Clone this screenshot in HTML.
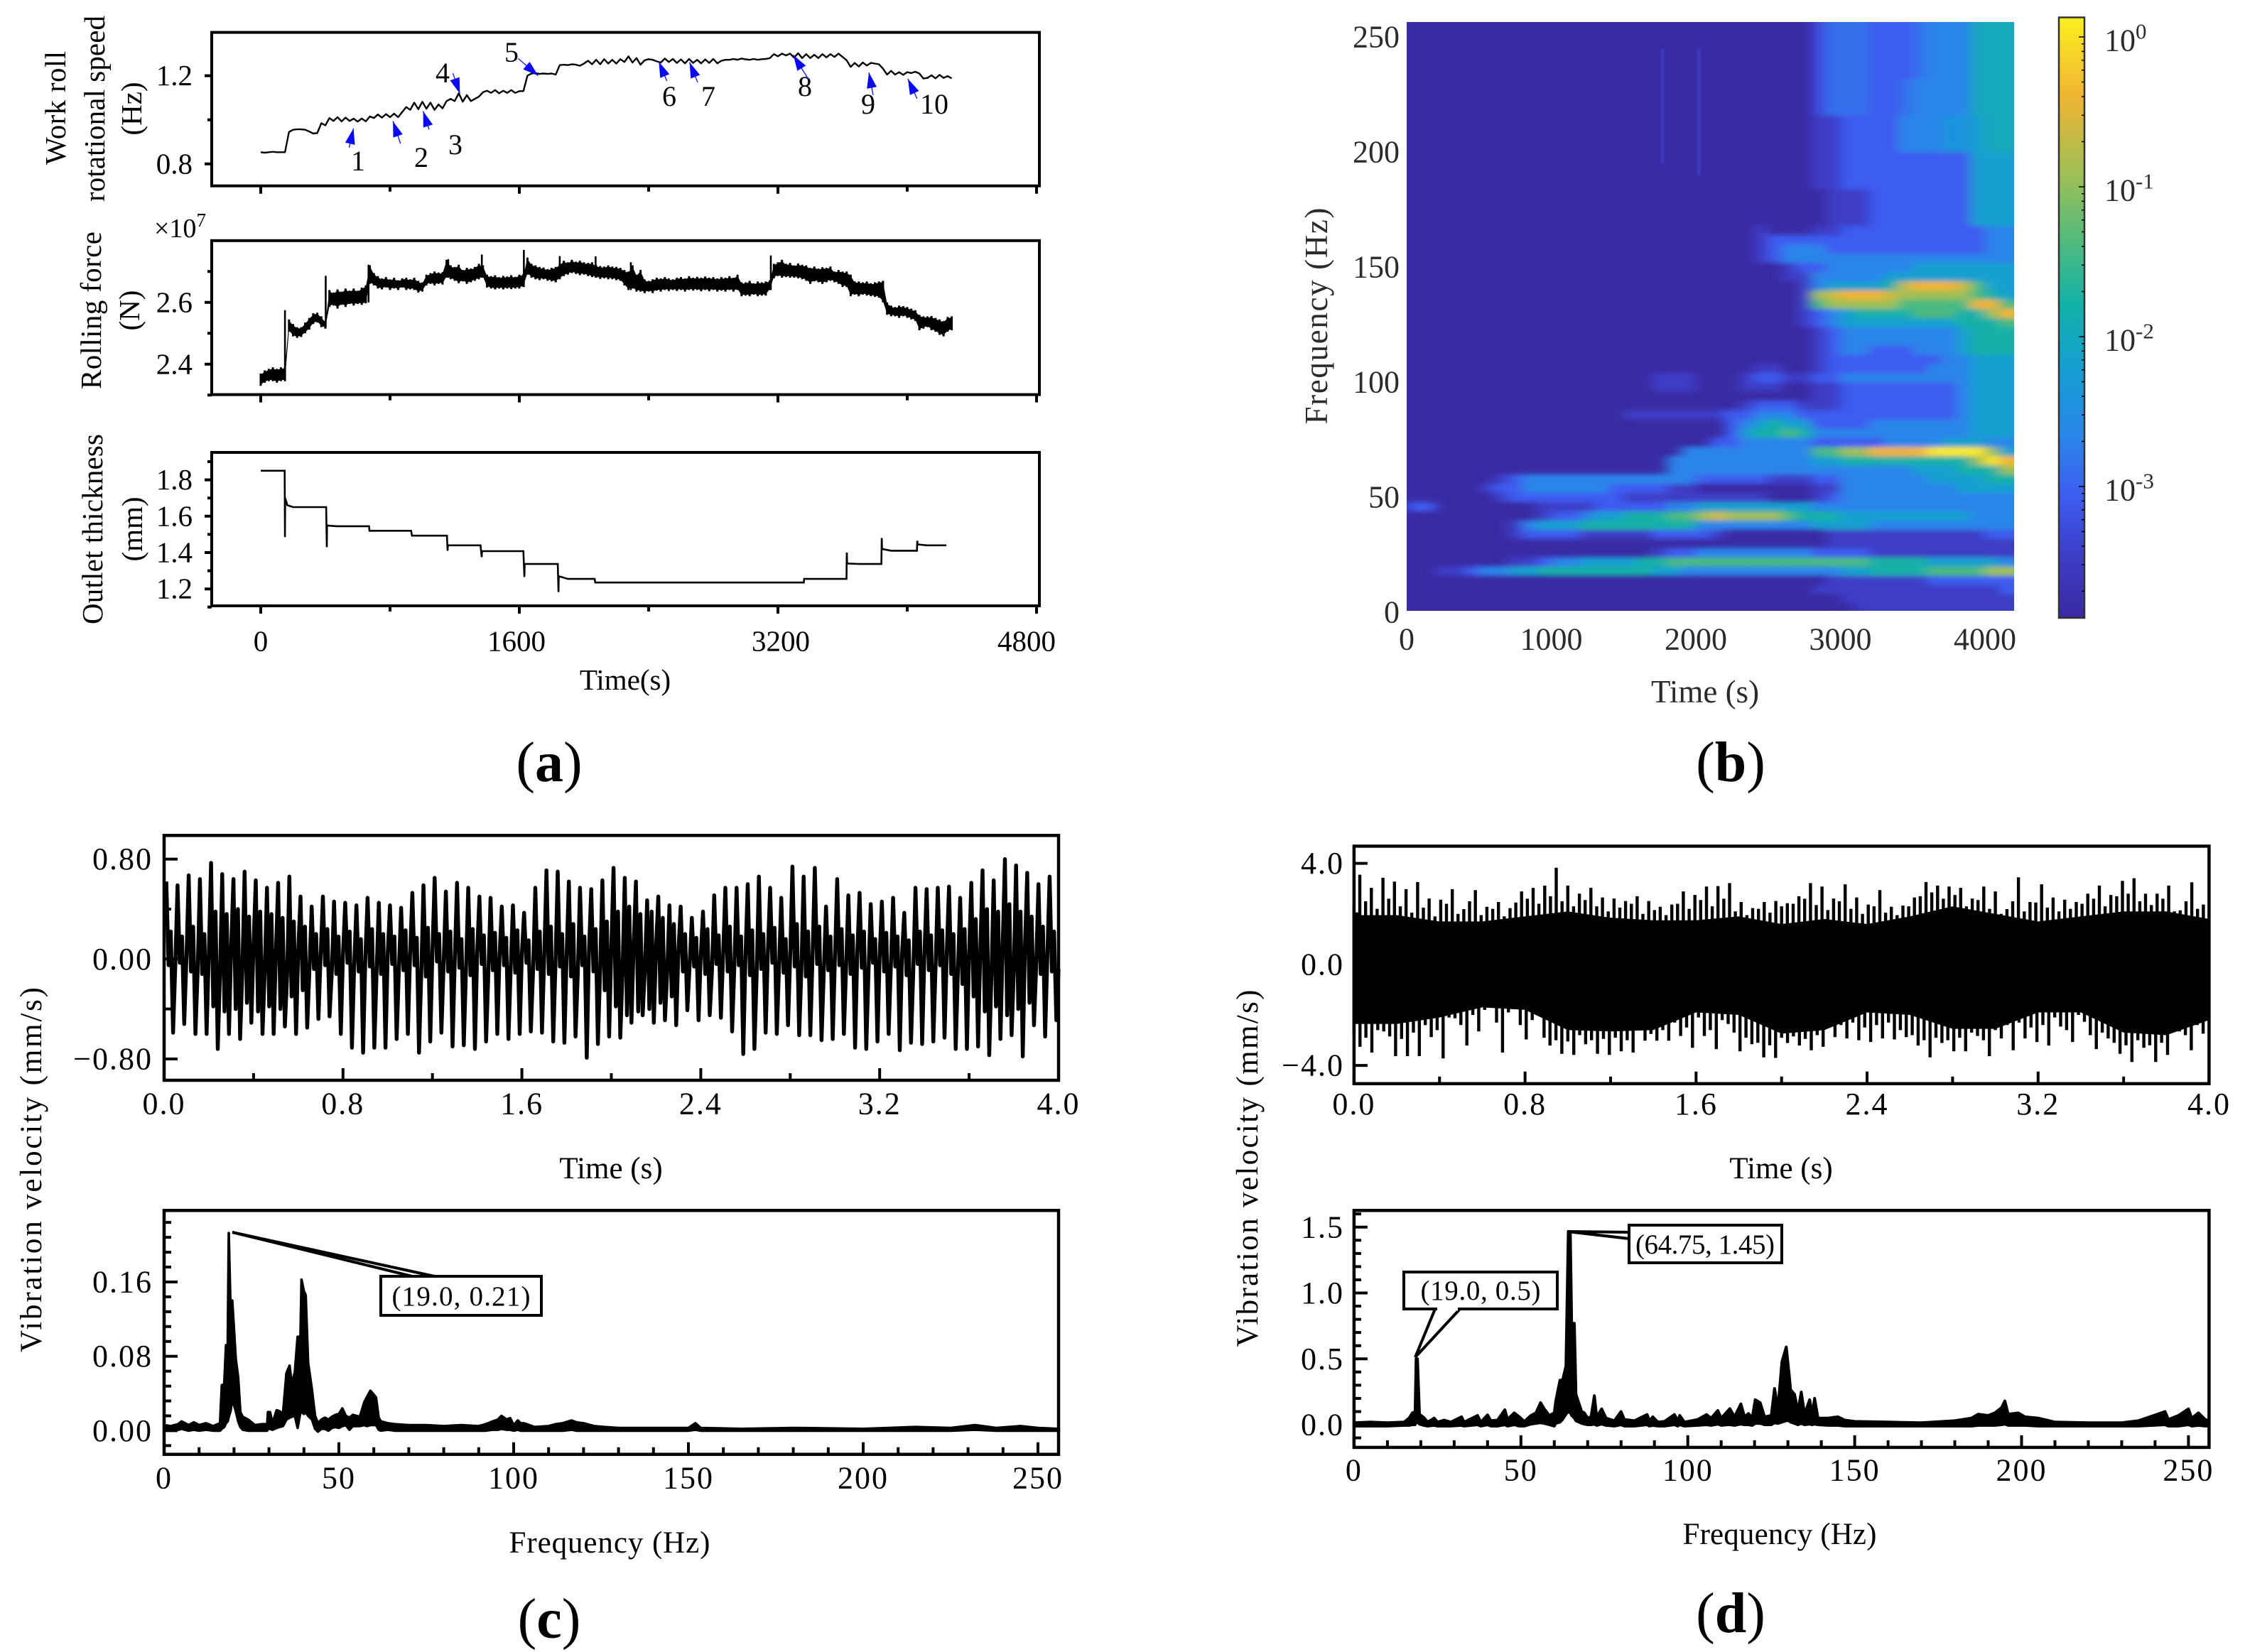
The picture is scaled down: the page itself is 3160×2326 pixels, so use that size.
<!DOCTYPE html>
<html lang="en">
<head>
<meta charset="utf-8">
<title>Rolling mill vibration figure</title>
<style>
html,body{margin:0;padding:0;background:#fff;}
svg{display:block;font-family:"Liberation Serif",serif;fill:#000;}
</style>
</head>
<body>
<svg id="chart" xmlns="http://www.w3.org/2000/svg" width="3160" height="2326" viewBox="0 0 3160 2326">
  <rect x="0" y="0" width="3160" height="2326" fill="#fff"/>
  <defs>
    <filter id="heatBlur" filterUnits="userSpaceOnUse" x="1900" y="0" width="1000" height="920"><feGaussianBlur stdDeviation="9 3.5"/></filter>
    <filter id="softBlur" filterUnits="userSpaceOnUse" x="1900" y="0" width="1000" height="920"><feGaussianBlur stdDeviation="1.2"/></filter>
    <clipPath id="heatClip"><rect x="1980" y="31" width="855" height="829"/></clipPath>
    <linearGradient id="parula" x1="0" y1="1" x2="0" y2="0">
      <stop offset="0" stop-color="#3a2aa3"/><stop offset="0.1" stop-color="#3c3cc6"/><stop offset="0.2" stop-color="#3d5cf0"/>
      <stop offset="0.3" stop-color="#2a85ea"/><stop offset="0.42" stop-color="#14a0d0"/><stop offset="0.52" stop-color="#12b0a8"/>
      <stop offset="0.62" stop-color="#4cba80"/><stop offset="0.74" stop-color="#9fbf55"/><stop offset="0.87" stop-color="#f0b432"/>
      <stop offset="1" stop-color="#fbf01e"/>
    </linearGradient>
  </defs>

  <!-- panel a text -->
  <g font-size="41">
    <text transform="translate(92,152) rotate(-90)" text-anchor="middle" textLength="160">Work roll</text>
    <text transform="translate(147,153) rotate(-90)" text-anchor="middle" textLength="262">rotational speed</text>
    <text transform="translate(199,153) rotate(-90)" text-anchor="middle">(Hz)</text>
    <text transform="translate(142,437) rotate(-90)" text-anchor="middle" textLength="222">Rolling force</text>
    <text transform="translate(196,437) rotate(-90)" text-anchor="middle">(N)</text>
    <text transform="translate(144,745) rotate(-90)" text-anchor="middle" textLength="268">Outlet thickness</text>
    <text transform="translate(200,745) rotate(-90)" text-anchor="middle">(mm)</text>
    <text x="880" y="971" text-anchor="middle">Time(s)</text>
    <text x="217" y="334" font-size="38">×10<tspan dy="-15" font-size="27">7</tspan></text>
  </g>
  <g font-size="40" text-anchor="middle">
    <text x="504" y="240">1</text>
    <text x="593" y="235">2</text>
    <text x="641" y="217">3</text>
    <text x="623" y="116">4</text>
    <text x="720" y="87">5</text>
    <text x="942" y="149">6</text>
    <text x="997" y="149">7</text>
    <text x="1133" y="135">8</text>
    <text x="1222" y="160">9</text>
    <text x="1315" y="160">10</text>
  </g>

  <!-- panel b text -->
  <g font-size="45" fill="#2b2b2b">
    <text transform="translate(1868,445) rotate(-90)" text-anchor="middle" textLength="305">Frequency (Hz)</text>
    <text x="2400" y="989" text-anchor="middle">Time (s)</text>
  </g>

  <!-- panel c/d text -->
  <g font-size="43">
    <text transform="translate(58,1647) rotate(-90)" text-anchor="middle" textLength="514">Vibration velocity (mm/s)</text>
    <text x="860" y="1659" text-anchor="middle">Time (s)</text>
    <text x="858" y="2186" text-anchor="middle" textLength="283">Frequency (Hz)</text>
  </g>
  <g font-size="43">
    <text transform="translate(1770,1645) rotate(-90)" text-anchor="middle" textLength="503">Vibration velocity (mm/s)</text>
    <text x="2507" y="1659" text-anchor="middle">Time (s)</text>
    <text x="2505" y="2174" text-anchor="middle" textLength="273">Frequency (Hz)</text>
  </g>

  <!-- panel letters -->
  <text x="773" y="1100" font-size="80" text-anchor="middle">(<tspan font-weight="bold">a</tspan>)</text>
  <text x="2436" y="1100" font-size="80" text-anchor="middle">(<tspan font-weight="bold">b</tspan>)</text>
  <text x="773" y="2306" font-size="80" text-anchor="middle">(<tspan font-weight="bold">c</tspan>)</text>
  <text x="2436" y="2298" font-size="80" text-anchor="middle">(<tspan font-weight="bold">d</tspan>)</text>

  <g id="plots"></g>

  <!-- callouts -->
  <g>
    <path d="M327,1735 L584,1798 L616,1798 Z" fill="#fff" stroke="#000" stroke-width="4"/>
    <rect x="536" y="1797" width="226" height="55" fill="#fff" stroke="#000" stroke-width="4"/>
    <text x="649" y="1838" font-size="39" text-anchor="middle" textLength="195">(19.0, 0.21)</text>
  </g>
  <g>
    <path d="M1992,1911 L2020,1843 L2055,1843 Z" fill="#fff" stroke="#000" stroke-width="4"/>
    <rect x="1976" y="1791" width="216" height="52" fill="#fff" stroke="#000" stroke-width="4"/>
    <path d="M2023,1843 H2052" stroke="#fff" stroke-width="5"/>
    <text x="2084" y="1830" font-size="39" text-anchor="middle" textLength="169">(19.0, 0.5)</text>
  </g>
  <g>
    <path d="M2206,1734 L2293,1735 L2293,1744 Z" fill="#fff" stroke="#000" stroke-width="4"/>
    <rect x="2293" y="1725" width="215" height="53" fill="#fff" stroke="#000" stroke-width="4"/>
    <text x="2400" y="1765" font-size="39" text-anchor="middle" textLength="196">(64.75, 1.45)</text>
  </g>
</svg>

<script>
/* ---------- panel (a) data ---------- */
const speedStep = 25;
const speedValues = [.853,.851,.853,.855,.853,.853,.853,.945,.955,.957,.957,.955,.947,.938,.94,.985,.975,1.008,.995,1.012,.993,1.01,.995,1.005,.992,1.006,.993,1.015,1.008,1.024,1.01,1.026,1.012,1.028,1.012,1.035,1.058,1.045,1.078,1.048,1.082,1.05,1.078,1.045,1.07,1.052,1.085,1.095,1.085,1.12,1.082,1.112,1.085,1.095,1.105,1.125,1.132,1.122,1.135,1.12,1.132,1.122,1.135,1.122,1.13,1.13,1.2,1.21,1.212,1.208,1.21,1.208,1.21,1.205,1.248,1.25,1.248,1.252,1.25,1.245,1.255,1.268,1.252,1.272,1.252,1.275,1.255,1.272,1.255,1.275,1.262,1.288,1.26,1.28,1.25,1.27,1.275,1.272,1.265,1.26,1.278,1.262,1.276,1.258,1.274,1.256,1.276,1.258,1.272,1.256,1.274,1.258,1.276,1.256,1.268,1.272,1.272,1.276,1.272,1.278,1.274,1.272,1.276,1.272,1.275,1.276,1.28,1.298,1.288,1.3,1.292,1.3,1.282,1.302,1.28,1.298,1.28,1.295,1.28,1.298,1.283,1.298,1.285,1.3,1.285,1.27,1.24,1.258,1.242,1.26,1.246,1.258,1.255,1.252,1.232,1.205,1.222,1.205,1.216,1.204,1.216,1.212,1.218,1.21,1.187,1.19,1.202,1.188,1.204,1.19,1.198,1.188];
const speedArrows = [[574,.961,547,.874],[818,.994,865,.892],[1005,1.039,1042,.956],[1232,1.119,1189,1.211],[1717,1.2,1593,1.278],[2463,1.264,2513,1.176],[2653,1.261,2703,1.17],[3295,1.294,3389,1.184],[3763,1.215,3789,1.112],[4004,1.186,4061,1.096]];
const forceStep = 25;
const forceUpper = [2.37,2.38,2.385,2.39,2.385,2.39,2.39,2.545,2.53,2.52,2.52,2.535,2.55,2.565,2.567,2.555,2.54,2.64,2.632,2.642,2.635,2.645,2.638,2.645,2.638,2.648,2.655,2.72,2.695,2.685,2.678,2.682,2.675,2.68,2.672,2.678,2.68,2.675,2.68,2.67,2.665,2.69,2.695,2.7,2.697,2.698,2.738,2.72,2.715,2.722,2.705,2.712,2.71,2.715,2.725,2.72,2.69,2.685,2.688,2.682,2.686,2.684,2.688,2.683,2.69,2.692,2.745,2.725,2.72,2.715,2.713,2.708,2.712,2.715,2.725,2.735,2.73,2.738,2.732,2.735,2.73,2.728,2.73,2.72,2.718,2.716,2.72,2.716,2.715,2.712,2.705,2.7,2.72,2.69,2.705,2.675,2.67,2.675,2.68,2.678,2.682,2.678,2.675,2.68,2.682,2.678,2.685,2.68,2.683,2.68,2.684,2.68,2.682,2.678,2.682,2.68,2.685,2.68,2.69,2.665,2.665,2.67,2.662,2.668,2.665,2.668,2.672,2.725,2.73,2.738,2.725,2.728,2.72,2.726,2.722,2.72,2.712,2.716,2.71,2.714,2.712,2.716,2.7,2.705,2.7,2.7,2.69,2.668,2.668,2.665,2.668,2.662,2.665,2.668,2.67,2.6,2.59,2.585,2.59,2.588,2.585,2.58,2.575,2.56,2.555,2.555,2.556,2.55,2.545,2.54,2.553,2.555];
const forceLower = [2.33,2.34,2.345,2.345,2.34,2.345,2.345,2.505,2.49,2.485,2.488,2.5,2.512,2.53,2.535,2.52,2.515,2.585,2.59,2.58,2.592,2.585,2.595,2.59,2.595,2.592,2.597,2.66,2.655,2.645,2.642,2.648,2.64,2.645,2.64,2.648,2.64,2.642,2.64,2.632,2.635,2.655,2.66,2.655,2.66,2.658,2.68,2.675,2.67,2.662,2.668,2.66,2.665,2.67,2.675,2.68,2.648,2.645,2.642,2.645,2.642,2.645,2.643,2.645,2.645,2.65,2.69,2.68,2.675,2.672,2.675,2.67,2.668,2.665,2.675,2.685,2.69,2.695,2.692,2.688,2.69,2.685,2.682,2.68,2.676,2.678,2.675,2.675,2.672,2.67,2.655,2.64,2.645,2.635,2.635,2.63,2.635,2.63,2.638,2.635,2.64,2.637,2.64,2.637,2.64,2.635,2.64,2.638,2.64,2.636,2.64,2.636,2.64,2.635,2.638,2.635,2.64,2.635,2.64,2.62,2.622,2.62,2.625,2.62,2.622,2.622,2.64,2.678,2.685,2.68,2.682,2.68,2.68,2.678,2.675,2.67,2.66,2.668,2.665,2.66,2.665,2.67,2.665,2.66,2.65,2.65,2.62,2.625,2.62,2.625,2.622,2.62,2.618,2.615,2.6,2.56,2.555,2.555,2.55,2.555,2.55,2.545,2.54,2.51,2.515,2.52,2.51,2.505,2.495,2.49,2.505,2.51];
const forceSpikeTimes = [150,402,667,1160,1368,1628,1850,2072,2290,3156];
const forceSpikeTops = [2.575,2.686,2.722,2.74,2.755,2.77,2.75,2.749,2.73,2.752];
const forceSpikeBases = [2.35,2.52,2.6,2.68,2.68,2.65,2.68,2.68,2.64,2.64];
const thicknessTimes = [0,148,150,151,165,200,260,405,409,410,418,470,670,673,930,936,1152,1156,1158,1200,1360,1367,1369,1625,1631,1633,1838,1842,1844,1900,2066,2070,3360,3362,3624,3626,3628,3700,3840,3842,3844,3900,4060,4062,4064,4120,4242];
const thicknessValues = [1.85,1.85,1.485,1.7,1.66,1.65,1.65,1.65,1.43,1.55,1.548,1.545,1.545,1.52,1.52,1.493,1.493,1.41,1.44,1.44,1.44,1.375,1.408,1.408,1.266,1.337,1.337,1.183,1.27,1.255,1.255,1.235,1.235,1.255,1.255,1.4,1.34,1.337,1.337,1.48,1.42,1.41,1.41,1.465,1.445,1.44,1.44];
const aXMajor = [0,1600,3200,4800];
const aXMinor = [800,2400,4000];

/* ---------- panel (b) data ---------- */
const heatTimeStep = 100;
const heatFreqLow = [0,4,8,12,16,20,24,28,32,36,40,44,48,52,56,60,64,68,72,76,80,84,88,92,96,100,104,108,112,116,120,124,128,132,136,140,144,148,152,156,160,164,168,184,200,216,232,248];
const heatColors = ['#3a2aa3','#3c3cc6','#3d5cf0','#2a85ea','#14a0d0','#12b0a8','#4cba80','#9fbf55','#f0b432','#fbe81e'];
const heatLevels = [
[0,0,0,0,0,0,0,0,0,0,0,0,0,0,0,0,0,0,0,0,0,0,0,0,0,0,0,0,0,0,0,1,1,1,1,1,1,1,1,1,1,1],
[0,0,0,0,0,0,0,0,0,0,0,0,0,0,0,0,0,0,0,0,0,0,0,0,0,0,0,0,0,0,1,1,1,1,1,1,1,1,1,1,1,1],
[0,0,0,0,0,0,0,0,0,0,0,0,0,0,0,0,0,0,0,0,0,0,0,0,0,0,0,0,1,1,1,1,1,1,1,1,1,1,1,1,1,2],
[0,0,0,0,0,0,0,0,0,0,0,0,0,0,0,0,0,0,0,0,0,0,0,0,0,0,0,0,0,1,1,1,1,1,1,1,2,2,2,2,2,2],
[0,0,1,1,2,3,3,4,4,5,5,5,5,5,5,5,5,4,4,3,3,3,3,3,3,3,3,3,3,3,4,4,5,5,5,5,6,6,6,6,7,7],
[0,0,0,0,0,0,0,1,1,2,3,3,4,4,4,4,5,5,6,6,6,6,6,6,6,6,6,6,6,6,6,6,5,5,5,5,4,4,4,4,4,3],
[0,0,0,0,0,0,0,0,0,0,0,0,0,0,0,0,0,1,2,2,3,3,3,3,3,3,3,3,2,2,2,2,1,1,1,1,1,1,1,1,1,1],
[0,0,0,0,0,0,0,0,0,0,0,0,0,0,0,0,0,0,0,0,0,0,0,0,0,0,0,0,0,1,1,1,1,1,1,1,1,1,1,1,1,1],
[0,0,0,0,0,0,0,1,2,2,2,2,1,1,1,1,1,2,2,2,2,1,0,0,0,0,0,0,0,1,1,1,1,1,1,1,1,1,1,1,2,2],
[0,0,0,0,0,0,0,1,3,4,4,4,5,5,5,5,5,5,5,5,3,3,3,3,3,3,3,3,4,4,4,4,3,3,3,3,3,3,3,3,3,3],
[0,0,0,0,0,0,0,0,0,1,2,2,3,4,4,5,5,5,6,6,7,7.6,7,7,7,7,6,5,5,5,4,4,4,4,4,4,4,4,4,3,3,3],
[2,2,0,0,0,0,0,0,0,1,1,1,1,2,2,2,2,2,3,3,4,4,4,4,4,4,4,4,3,3,3,3,3,3,3,3,3,3,3,3,3,3],
[0,0,0,0,0,0,1,2,2,2,2,2,2,2,2,1,1,1,1,1,1,1,1,1,1,0,0,0,1,2,3,3,3,3,3,3,3,3,3,3,3,3],
[0,0,0,0,0,1,2,2,3,3,3,3,3,3,2,2,2,2,1,1,0,0,0,0,0,0,0,0,1,1,3,3,3,3,3,3,3,3,4,4,4,4],
[0,0,0,0,0,0,1,2,3,3,3,3,3,3,3,3,3,3,3,3,2,2,2,2,2,1,1,1,2,2,3,3,3,3,3,3,4,4,4,4,5,5],
[0,0,0,0,0,0,0,0,0,0,0,0,0,0,0,0,0,0,3,3,3,3,3,3,3,3,3,3,3,3,3,3,3,3,3,4,4,4,5,5,5,7],
[0,0,0,0,0,0,0,0,0,0,0,0,0,0,0,0,0,0,3,3,3,3,3,3,3,3,3,3,4,4,5,5,5,5,5,5,5,5,5,7,9,8],
[0,0,0,0,0,0,0,0,0,0,0,0,0,0,0,0,0,0,0,3,3,3,3,3,3,3,3,3,6,6,7,7,8,8,8,8,9,9,9,9,7,4],
[0,0,0,0,0,0,0,0,0,0,0,0,0,0,0,0,0,0,0,0,0,2,2,3,3,3,3,3,2,2,2,2,2,3,3,3,3,4,4,4,3,3],
[0,0,0,0,0,0,0,0,0,0,0,0,0,0,0,0,0,0,0,0,0,0,2,4,5,5,6,5,3,3,3,3,3,3,3,3,3,3,3,4,4,4],
[0,0,0,0,0,0,0,0,0,0,0,0,0,0,0,0,0,0,0,0,0,0,2,3,4,5,4,4,2,2,2,2,3,3,3,3,3,3,3,4,4,4],
[0,0,0,0,0,0,0,0,0,0,0,0,0,0,0,1,1,1,1,1,1,1,2,2,3,3,3,2,2,2,2,2,2,2,2,2,2,2,3,4,4,4],
[0,0,0,0,0,0,0,0,0,0,0,0,0,0,0,0,0,0,0,0,0,0,0,1,2,2,2,1,1,1,2,2,2,2,2,2,2,2,3,4,4,4],
[0,0,0,0,0,0,0,0,0,0,0,0,0,0,0,0,0,0,0,0,0,0,0,0,0,0,0,0,1,1,2,2,2,2,2,2,2,2,3,4,4,4],
[0,0,0,0,0,0,0,0,0,0,0,0,0,0,0,0,0,1,1,1,0,0,0,1,1,1,0,0,1,1,2,2,2,2,2,2,2,2,3,4,4,4],
[0,0,0,0,0,0,0,0,0,0,0,0,0,0,0,0,0,1,1,1,0,0,0,1,2,2,1,1,2,2,3,3,3,3,3,3,3,3,3,4,4,4],
[0,0,0,0,0,0,0,0,0,0,0,0,0,0,0,0,0,0,0,0,0,0,0,0,1,1,0,0,1,2,2,2,2,2,2,2,3,3,3,4,4,4],
[0,0,0,0,0,0,0,0,0,0,0,0,0,0,0,0,0,0,0,0,0,0,0,0,0,0,0,0,1,2,2,2,2,2,2,2,2,3,3,4,4,4],
[0,0,0,0,0,0,0,0,0,0,0,0,0,0,0,0,0,0,0,0,0,0,0,0,0,0,0,0,1,2,3,3,2,2,2,3,3,3,4,5,5,5],
[0,0,0,0,0,0,0,0,0,0,0,0,0,0,0,0,0,0,0,0,0,0,0,0,0,0,0,0,1,2,3,3,3,3,3,3,3,3,4,5,5,5],
[0,0,0,0,0,0,0,0,0,0,0,0,0,0,0,0,0,0,0,0,0,0,0,0,0,0,0,0,1,2,3,3,3,3,3,3,3,3,4,5,5,5],
[0,0,0,0,0,0,0,0,0,0,0,0,0,0,0,0,0,0,0,0,0,0,0,0,0,0,0,1,2,3,4,4,4,4,4,4,4,4,5,5,5,6],
[0,0,0,0,0,0,0,0,0,0,0,0,0,0,0,0,0,0,0,0,0,0,0,0,0,0,0,1,2,3,4,5,5,5,5,6,6,6,5,5,7,8],
[0,0,0,0,0,0,0,0,0,0,0,0,0,0,0,0,0,0,0,0,0,0,0,0,0,0,0,1,6,7,7,7,7,7,6,6,6,6,6,8,8,6],
[0,0,0,0,0,0,0,0,0,0,0,0,0,0,0,0,0,0,0,0,0,0,0,0,0,0,0,1,7,7.5,8,8,8,7.5,7,7,7,7,7,6,5,4],
[0,0,0,0,0,0,0,0,0,0,0,0,0,0,0,0,0,0,0,0,0,0,0,0,0,0,0,1,3,4,4,4,4,5,7.5,8,8,8,7.5,6,4,4],
[0,0,0,0,0,0,0,0,0,0,0,0,0,0,0,0,0,0,0,0,0,0,0,0,0,0,1,1,3,3,3,3,3,4,4,4,4,4,4,4,4,4],
[0,0,0,0,0,0,0,0,0,0,0,0,0,0,0,0,0,0,0,0,0,0,0,0,0,0,1,2,2,3,3,3,3,3,3,4,4,4,4,4,4,4],
[0,0,0,0,0,0,0,0,0,0,0,0,0,0,0,0,0,0,0,0,0,0,0,0,1,2,3,3,3,3,3,3,3,3,3,3,3,3,3,3,3,3],
[0,0,0,0,0,0,0,0,0,0,0,0,0,0,0,0,0,0,0,0,0,0,0,0,1,2,3,3,3,2,2,2,2,2,2,2,2,2,2,2,3,3],
[0,0,0,0,0,0,0,0,0,0,0,0,0,0,0,0,0,0,0,0,0,0,0,0,1,2,2,2,2,2,2,2,2,2,2,2,2,2,2,2,3,3],
[0,0,0,0,0,0,0,0,0,0,0,0,0,0,0,0,0,0,0,0,0,0,0,0,1,0,0,0,1,1,2,2,2,2,2,2,2,2,2,2,3,3],
[0,0,0,0,0,0,0,0,0,0,0,0,0,0,0,0,0,0,0,0,0,0,0,0,0,0,0,0,0,1,1,1,2,2,2,2,2,2,2,4,4,4],
[0,0,0,0,0,0,0,0,0,0,0,0,0,0,0,0,0,0,0,0,0,0,0,0,0,0,0,0,1,1,2,2,2,2,2,2,2,2,2,4,4,4],
[0,0,0,0,0,0,0,0,0,0,0,0,0,0,0,0,0,0,0,0,0,0,0,0,0,0,0,0,1,1,2,2,2,2,3,3,3,3.5,3.5,4,4.5,4.5],
[0,0,0,0,0,0,0,0,0,0,0,0,0,0,0,0,0,0,0,0,0,0,0,0,0,0,0,0,1.5,2.5,2.5,2.5,2,2,2.5,3,3,3,3,4.5,4.5,4.5],
[0,0,0,0,0,0,0,0,0,0,0,0,0,0,0,0,0,0,0,0,0,0,0,0,0,0,0,0,1.5,2.5,2.5,2.5,2,2,2,2.5,3,3,3,4.5,4.5,4.5],
[0,0,0,0,0,0,0,0,0,0,0,0,0,0,0,0,0,0,0,0,0,0,0,0,0,0,0,0,1.5,2.5,2.5,2.5,2,2,2,2.5,3,3,3,4.5,4.5,4.5]
];
const heatStreakTimes = [2020,1770];
const heatStreakLow = [190,195];
const heatStreakHigh = [245,245];
const heatXTicks = [0,1000,2000,3000,4000];
const heatYTicks = [0,50,100,150,200,250];
const colorbarDecades = [0,-1,-2,-3];

/* ---------- panel (c) data ---------- */
const cPeaks = [.62,.59,.67,.64,.77,.68,.64,.70,.63,.57,.61,.66,.50,.42,.50,.46,.45,.43,.49,.45,.43,.41,.53,.59,.65,.54,.61,.57,.50,.49,.42,.43,.37,.57,.71,.70,.62,.57,.56,.63,.73,.65,.62,.47,.50,.43,.42,.33,.38,.51,.57,.57,.60,.66,.57,.49,.74,.66,.73,.42,.64,.51,.53,.44,.46,.49,.37,.57,.56,.57,.58,.49,.61,.71,.63,.80,.75,.69,.60,.66];
const cDips = [-.05,-.03,-.10,-.12,-.38,-.42,-.40,-.35,-.42,-.38,-.40,-.30,-.25,-.08,-.05,-.12,-.03,-.10,-.06,-.12,-.04,-.09,-.05,-.14,-.02,-.10,-.07,-.13,-.04,-.09,-.05,-.11,-.03,-.08,-.12,-.06,-.14,-.05,-.10,-.25,-.38,-.45,-.42,-.40,-.35,-.30,-.10,-.06,-.12,-.04,-.10,-.05,-.13,-.08,-.03,-.11,-.06,-.14,-.04,-.09,-.05,-.12,-.07,-.03,-.10,-.06,-.13,-.04,-.09,-.05,-.12,-.20,-.30,-.42,-.38,-.45,-.40,-.35,-.12,-.10];
const cBumps = [.22,.18,.26,.20,.38,.36,.40,.34,.38,.36,.33,.30,.26,.20,.24,.18,.22,.16,.24,.20,.18,.23,.17,.25,.20,.22,.16,.24,.19,.21,.17,.23,.15,.22,.26,.20,.28,.18,.24,.30,.38,.42,.36,.38,.33,.28,.20,.17,.24,.19,.26,.18,.23,.20,.25,.16,.28,.22,.26,.18,.24,.19,.22,.16,.21,.18,.15,.22,.19,.23,.20,.24,.32,.40,.38,.44,.38,.34,.26,.22];
const cTroughs = [-.59,-.52,-.60,-.60,-.72,-.60,-.64,-.51,-.60,-.60,-.54,-.60,-.55,-.48,-.46,-.60,-.71,-.75,-.71,-.71,-.64,-.60,-.75,-.66,-.59,-.70,-.69,-.72,-.66,-.60,-.64,-.60,-.58,-.59,-.66,-.67,-.62,-.79,-.68,-.62,-.63,-.51,-.45,-.51,-.49,-.53,-.41,-.49,-.45,-.47,-.58,-.76,-.72,-.59,-.60,-.53,-.61,-.61,-.65,-.64,-.60,-.71,-.72,-.66,-.60,-.73,-.67,-.68,-.66,-.63,-.72,-.72,-.70,-.77,-.64,-.61,-.78,-.53,-.62,-.49];
const cRises = [-.06,.02,-.10,.04,-.12,.10,-.08,.12,-.10,.06,-.14,.08,-.08,.02,-.10,.04,-.06,.02,-.12,.05,-.08,.03,-.11,.06,-.05,.01,-.09,.04,-.12,.02,-.07,.05,-.10,.03,-.06,.04,-.12,.06,-.08,.10,-.12,.12,-.08,.10,-.10,.06,-.05,.03,-.10,.04,-.07,.02,-.12,.05,-.06,.03,-.09,.04,-.11,.02,-.06,.05,-.10,.03,-.07,.04,-.12,.02,-.06,.04,-.09,.05,.06,-.12,.10,-.10,.12,-.06,.04,-.08];
const cTimeTicksMajor = [0,.8,1.6,2.4,3.2,4];
const cTimeTicksMinor = [.4,1.2,2,2.8,3.6];
const cFreq = [0,2,4,5,7,8.5,10,12,14,16,16.5,17.2,17.7,18.2,18.5,19,19.5,20.5,21.2,21.8,22.5,24,26,28,29.5,29.7,30.3,31,32.2,33,34,35,35.9,36.5,37.4,38.2,39,39.3,40,40.5,41.2,42.3,43.2,44,45,46,47,48,49,50,51,52,53,54,56,57.3,58,59,60.6,61.4,62,64,66,70,75,80,85,90,92,94,95.5,96.5,98,99,100,101.2,102,103,106,110,112,114,116.6,118,120,123,126,130,140,150,152,153.5,165,180,200,215,225,232,238,245,250,256];
const cUpper = [.006,.005,.007,.010,.006,.009,.006,.008,.005,.008,.049,.05,.092,.092,.2127,.13,.14,.077,.057,.02,.015,.012,.006,.007,.007,.02,.02,.008,.022,.021,.018,.062,.07,.05,.063,.101,.101,.1625,.15,.146,.073,.044,.016,.008,.012,.014,.012,.015,.017,.018,.024,.016,.014,.017,.015,.031,.036,.043,.036,.014,.010,.008,.007,.006,.006,.005,.006,.005,.007,.010,.012,.016,.012,.0135,.006,.011,.008,.008,.004,.005,.007,.008,.011,.009,.008,.005,.004,.003,.003,.003,.008,.003,.002,.003,.002,.004,.003,.006,.003,.005,.003,.002];
const cLower = [0,.001,.001,.002,0,.001,0,.001,0,0,.002,.004,.008,.01,.015,.021,.034,.021,.01,.004,.001,0,0,0,0,.002,.002,.001,.003,.004,.005,.012,.014,.015,.016,.003,.02,.02,.018,.02,.016,.012,.002,-.001,.002,.002,0,.003,.004,.003,.005,.006,.001,.005,.005,.006,.005,.006,.006,.001,0,.001,0,0,0,0,0,0,0,.001,.001,.002,.001,.001,0,.001,0,0,0,0,0,0,.001,0,0,0,0,0,0,0,.001,0,0,0,0,0,0,.001,0,0,0,0];
const cFreqTicksMajor = [0,50,100,150,200,250];
const cFreqTicksMinor = [10,20,30,40,60,70,80,90,110,120,130,140,160,170,180,190,210,220,230,240];
const cAmpTicksMajor = [0,.08,.16];
const cAmpTicksMinor = [-.016,.016,.032,.048,.064,.096,.112,.128,.144,.176,.192,.208,.224];

/* ---------- panel (d) data ---------- */
const dUpperPeaks = [3.55,3.03,3.43,3.28,2.98,3.26,2.61,2.56,2.98,2.19,2.94,2.28,2.47,2.23,2.89,3.03,3.12,3.83,3.12,2.80,3.03,2.65,2.61,2.51,2.70,2.51,2.28,2.37,2.89,2.75,3.08,3.10,3.22,2.47,2.23,2.47,2.51,2.42,2.70,3.22,3.08,2.61,3.17,2.65,2.37,2.94,2.28,2.33,2.65,3.26,3.12,3.08,3.03,2.61,3.08,2.89,2.19,3.45,2.47,3.17,2.65,2.56,2.47,2.80,3.12,2.75,3.31,3.41,2.80,2.80,3.12,2.14,3.25,2.37];
const dUpperMid = [2.35,2.5,2.2,2.6,2.3,2.05,2.25,1.9,2.4,2.0,2.5,1.95,2.2,1.9,2.45,2.6,2.4,2.7,2.5,2.3,2.55,2.3,2.1,2.25,2.4,2.0,2.15,1.95,2.4,2.2,2.55,2.3,2.6,2.1,1.95,2.2,2.05,2.3,2.4,2.6,2.35,2.15,2.5,2.2,2.0,2.3,2.05,1.95,2.3,2.7,2.85,2.6,2.75,2.3,2.55,2.2,2.0,2.5,2.1,2.45,2.25,2.1,2.2,2.4,2.6,2.3,2.7,2.8,2.5,2.35,2.6,2.1,2.5,2.2];
const dLowerPeaks = [-3.26,-3.49,-2.65,-3.63,-3.63,-3.63,-2.88,-3.72,-2.13,-3.21,-2.65,-1.43,-3.49,-1.10,-2.97,-1.29,-3.21,-3.54,-3.58,-3.16,-3.54,-3.58,-3.44,-3.49,-3.02,-3.02,-3.02,-2.83,-3.30,-2.83,-3.35,-2.36,-3.44,-3.16,-3.68,-3.70,-3.11,-3.21,-3.40,-3.26,-2.88,-2.93,-3.0,-3.07,-2.93,-2.97,-2.88,-3.21,-3.68,-3.11,-3.44,-3.44,-2.83,-3.63,-2.93,-3.40,-2.93,-3.07,-3.21,-2.46,-3.07,-2.27,-3.35,-2.93,-3.54,-3.86,-3.30,-3.86,-3.58,-2.65,-3.40,-2.74];
const dLowerMid = [-2.8,-2.9,-2.6,-2.85,-2.95,-2.7,-2.4,-2.6,-2.1,-2.4,-2.0,-1.8,-2.3,-1.9,-2.4,-2.2,-2.9,-3.0,-3.05,-2.8,-3.0,-2.95,-2.9,-3.0,-2.6,-2.75,-2.6,-2.3,-2.5,-2.1,-2.6,-2.2,-2.7,-2.9,-3.1,-3.2,-2.9,-2.85,-2.95,-2.8,-2.5,-2.4,-2.3,-2.5,-2.4,-2.3,-2.6,-2.8,-3.0,-2.9,-3.0,-2.9,-2.7,-3.0,-2.6,-2.4,-2.3,-2.5,-2.4,-2.1,-2.6,-2.0,-2.8,-2.7,-3.1,-3.2,-3.0,-3.2,-3.1,-2.5,-2.8,-2.4];
const dUpperBase = [1.95,1.95,1.7,1.7,1.9,2.1,1.85,1.75,1.75,1.9,1.6,1.8,1.6,1.9,2.3,2.0,1.7,1.9,2.1,2.1,1.8];
const dLowerBase = [-2.36,-2.36,-2.1,-1.7,-1.8,-2.6,-2.65,-2.6,-1.9,-2.0,-2.74,-2.6,-1.9,-2.0,-2.55,-2.55,-1.9,-1.9,-2.7,-2.8,-2.2];
const dFreq = [0,5,10,15,16.5,17.5,18.3,18.6,19,19.6,20.9,22,24,25,27,29,32.2,33,37,38,40,41,43,45.2,46,48,49.5,51,53,54.5,55.9,57,58.5,60,60.4,61.7,62.5,63.5,64.2,64.8,65.2,66,66.5,68.2,69,70,71,72,72.7,74.2,75.5,78,80,81,84,87.8,88.5,89.5,91,93,96,97,97.6,99,103,105.6,107,109,110,112,112.6,114,115.9,117,118.2,119.3,120.2,121.7,123,125,126,127,128.2,129.5,130.3,130.8,132,133,134,135,136.5,137.3,138,139,142,145,147,150,160,170,180,185,187,190,192,194,195,196,199,201,205,210,220,230,235,243,244,247,250,251,253,255,256];
const dUpper = [.015,.02,.015,.02,.05,.09,.10,.5,.5,.08,.055,.02,.05,.02,.035,.02,.06,.02,.07,.02,.075,.03,.035,.113,.04,.09,.06,.025,.07,.09,.167,.12,.07,.09,.176,.338,.338,.445,1.466,1.466,.77,.77,.23,.10,.09,.05,.06,.22,.06,.12,.05,.03,.10,.04,.03,.077,.03,.06,.02,.025,.077,.03,.07,.02,.04,.077,.05,.108,.05,.105,.122,.06,.158,.06,.085,.05,.19,.167,.06,.07,.275,.12,.478,.59,.40,.266,.23,.10,.248,.08,.19,.08,.20,.05,.05,.06,.035,.025,.02,.015,.03,.05,.08,.07,.09,.13,.18,.08,.09,.06,.05,.02,.015,.015,.03,.10,.04,.07,.12,.05,.09,.04,.03];
const dLower = [-.01,-.01,-.01,-.005,-.005,0,0,.02,.02,.005,-.005,-.01,-.005,-.01,-.01,-.01,-.005,-.01,0,-.01,0,-.01,-.01,0,-.01,0,-.01,-.01,.005,.01,.015,.01,0,-.01,.01,.02,.04,.08,.1,.09,.07,.05,.03,.01,.005,0,0,.005,-.005,.005,-.005,-.01,0,-.01,-.01,0,-.01,-.005,-.01,-.01,0,-.01,0,-.01,-.005,0,-.005,.005,-.005,0,0,-.005,.005,0,0,-.005,.01,.01,0,0,.015,.01,.02,.03,.03,.02,.01,0,.01,0,.005,0,.005,0,-.005,-.005,-.01,-.01,-.01,-.01,-.01,-.01,-.005,-.005,-.005,0,.005,-.005,-.005,-.005,-.01,-.01,-.01,-.01,-.01,0,-.01,-.01,0,-.01,-.005,-.01,-.01];
const dAmpTicksMajor = [0,.5,1,1.5];
const dAmpTicksMinor = [-.1,.1,.2,.3,.4,.6,.7,.8,.9,1.1,1.2,1.3,1.4,1.6];

/* ---------- axis functions ---------- */
const xA = t => 367 + t * 0.2275;
const ySpeed = v => 106.6 + (1.2 - v) * 310.5;
const yForce = v => 425.8 + (2.6 - v) * 435;
const yThick = v => 675.6 + (1.8 - v) * 256;
const xHeat = t => 1980 + t * 0.2035;
const yHeat = f => 862 - f * 3.24;
const xC1 = t => 231 + t * 314.75;
const yC1 = v => 1350.3 - v * 175.9;
const xC2 = f => 231 + f * 4.92;
const yC2 = v => 2014.4 - v * 1309;
const xD1 = t => 1905.9 + t * 300.9;
const yD1 = v => 1357.9 - v * 35.57;
const xD2 = f => 1905.9 + f * 4.698;
const yD2 = v => 2006 - v * 185.5;

/* ---------- helpers ---------- */
const NS = 'http://www.w3.org/2000/svg';
const plots = document.getElementById('plots');
function add(parent, tag, name, interactable) {
  const el = document.createElementNS(NS, tag);
  
  
  parent.appendChild(el);
  return el;
}
function style(el, props) {
  for (const k in props) el.setAttribute(k, props[k]);
  return el;
}
function group(name) { return add(plots, 'g', name, false); }
function linePath(xs, ys) {
  return xs.map((x, i) => (i ? 'L' : 'M') + x.toFixed(1) + ',' + ys[i].toFixed(1)).join('');
}
function bandPath(xs, up, lo) {
  const n = Math.min(xs.length, up.length, lo.length);
  let d = '';
  for (let i = 0; i < n; i++) d += (i ? 'L' : 'M') + xs[i].toFixed(1) + ',' + up[i].toFixed(1);
  for (let i = n - 1; i >= 0; i--) d += 'L' + xs[i].toFixed(1) + ',' + lo[i].toFixed(1);
  return d + 'Z';
}
function frame(g, x0, y0, x1, y1, w) {
  const r = add(g, 'rect', 'plot-frame', false);
  style(r, {x: x0, y: y0, width: x1 - x0, height: y1 - y0, fill: 'none', stroke: '#000', 'stroke-width': w});
}
function tickPath(g, name, d, w) {
  const p = add(g, 'path', name, false);
  style(p, {d: d, stroke: '#000', 'stroke-width': w, fill: 'none'});
}
function label(g, name, str, x, y, size, anchor, extra) {
  const t = add(g, 'text', name, false);
  style(t, {x: x, y: y + size * 0.33, 'font-size': size, 'text-anchor': anchor});
  if (extra) style(t, extra);
  t.textContent = str;
  return t;
}
function hexRgb(h) { return [1, 3, 5].map(i => parseInt(h.substr(i, 2), 16)); }
function levelColor(lvl) {
  const lo = Math.floor(lvl), hi = Math.min(heatColors.length - 1, lo + 1), f = lvl - lo;
  if (!f) return heatColors[lo];
  const a = hexRgb(heatColors[lo]), b = hexRgb(heatColors[hi]);
  return 'rgb(' + a.map((v, i) => Math.round(v + (b[i] - v) * f)).join(',') + ')';
}

/* ---------- panel a ---------- */
(function () {
  const xLabelOffset = {0: 0, 1600: -4, 3200: 4, 4800: -14};
  const sub = [
    {name: 'speed-panel', y0: 45.6, y1: 261.7, yf: ySpeed, major: [.8, 1.2], minor: [1.0], fmt: v => v.toFixed(1)},
    {name: 'force-panel', y0: 338.8, y1: 555.6, yf: yForce, major: [2.4, 2.6], minor: [2.3, 2.5, 2.7], fmt: v => v.toFixed(1)},
    {name: 'thickness-panel', y0: 637, y1: 853, yf: yThick, major: [1.2, 1.4, 1.6, 1.8], minor: [1.1, 1.3, 1.5, 1.7, 1.9], fmt: v => v.toFixed(1)}
  ];
  sub.forEach((s, idx) => {
    const g = group(s.name);
    if (idx === 0) {
      const xs = speedValues.map((_, i) => xA(i * speedStep));
      const ys = speedValues.map(v => ySpeed(v));
      const p = add(g, 'path', 'speed-line', false);
      style(p, {d: linePath(xs, ys), fill: 'none', stroke: '#000', 'stroke-width': 2.4, 'stroke-linejoin': 'round'});
      speedArrows.forEach(a => {
        const tx = xA(a[0]), ty = ySpeed(a[1]), bx = xA(a[2]), by = ySpeed(a[3]);
        const dx = bx - tx, dy = by - ty, len = Math.hypot(dx, dy), ux = dx / len, uy = dy / len;
        const shaft = add(g, 'line', 'speed-arrow-shaft', false);
        style(shaft, {x1: tx, y1: ty, x2: bx, y2: by, stroke: '#1a1af0', 'stroke-width': 1.4});
        const head = add(g, 'polygon', 'speed-arrow-head', false);
        const L = 22, W = 7;
        style(head, {points: `${tx},${ty} ${tx + ux * L - uy * W},${ty + uy * L + ux * W} ${tx + ux * L + uy * W},${ty + uy * L - ux * W}`, fill: '#0a0af0'});
      });
    }
    if (idx === 1) {
      const xs = forceUpper.map((_, i) => xA(i * forceStep));
      const inset = 0.004;
      const p = add(g, 'path', 'force-band', false);
      style(p, {d: bandPath(xs, forceUpper.map(v => yForce(v - inset)), forceLower.map(v => yForce(v + inset))), fill: '#000'});
      let bars = '';
      xs.forEach((x, i) => { bars += `M${x.toFixed(1)},${yForce(forceUpper[i]).toFixed(1)}V${yForce(forceLower[i]).toFixed(1)}`; });
      const b = add(g, 'path', 'force-noise-bars', false);
      style(b, {d: bars, stroke: '#000', 'stroke-width': 3, fill: 'none'});
      forceSpikeTimes.forEach((t, i) => {
        const l = add(g, 'line', 'force-spike', false);
        style(l, {x1: xA(t), x2: xA(t), y1: yForce(forceSpikeTops[i]), y2: yForce(forceSpikeBases[i]), stroke: '#000', 'stroke-width': 2.6});
      });
    }
    if (idx === 2) {
      const p = add(g, 'path', 'thickness-line', false);
      style(p, {d: linePath(thicknessTimes.map(xA), thicknessValues.map(yThick)), fill: 'none', stroke: '#000', 'stroke-width': 2.6});
    }
    frame(g, 298, s.y0, 1463, s.y1, 4);
    let d = '';
    s.major.forEach(v => { d += `M288,${s.yf(v)}H298`; });
    s.minor.forEach(v => { d += `M292,${s.yf(v)}H298`; });
    aXMajor.forEach(t => { d += `M${xA(t)},${s.y1}v11`; });
    aXMinor.forEach(t => { d += `M${xA(t)},${s.y1}v8`; });
    tickPath(g, 'panel-a-ticks', d, 4);
    s.major.forEach(v => label(g, 'y-tick-label', s.fmt(v), 271, s.yf(v), 41, 'end'));
    if (idx === 2) aXMajor.forEach(t => label(g, 'x-tick-label', String(t), xA(t) + xLabelOffset[t], 903, 41, 'middle'));
  });
})();

/* ---------- panel b ---------- */
(function () {
  const g = group('spectrogram-panel');
  const bg = add(g, 'rect', 'spectrogram-background', false);
  style(bg, {x: 1980, y: 31, width: 855, height: 829, fill: heatColors[0]});
  const clip = add(g, 'g', 'spectrogram-clip', false);
  clip.setAttribute('clip-path', 'url(#heatClip)');
  const blur = add(clip, 'g', 'spectrogram-cells', false);
  blur.setAttribute('filter', 'url(#heatBlur)');
  heatLevels.forEach((row, r) => {
    const fLow = heatFreqLow[r];
    const fHigh = r + 1 < heatFreqLow.length ? heatFreqLow[r + 1] : fLow + 60;
    row.forEach((lvl, c) => {
      if (!lvl) return;
      const x0 = xHeat(c * heatTimeStep);
      const x1 = xHeat((c + 1) * heatTimeStep) + (c === row.length - 1 ? 60 : 0.6);
      const y0 = yHeat(fHigh), y1 = yHeat(fLow);
      const cell = add(blur, 'rect', 'heat-cell', false);
      style(cell, {x: x0.toFixed(1), y: y0.toFixed(1), width: (x1 - x0).toFixed(1), height: (y1 - y0 + 0.6).toFixed(1), fill: levelColor(lvl)});
    });
  });
  const streaks = add(clip, 'g', 'spectrogram-streaks', false);
  streaks.setAttribute('filter', 'url(#softBlur)');
  heatStreakTimes.forEach((t, i) => {
    const s = add(streaks, 'rect', 'heat-streak', false);
    style(s, {x: xHeat(t) - 2, y: yHeat(heatStreakHigh[i]), width: 4, height: yHeat(heatStreakLow[i]) - yHeat(heatStreakHigh[i]), fill: heatColors[1]});
  });
  heatXTicks.forEach(t => label(g, 'x-tick-label', String(t), xHeat(t), 900, 44, 'middle', {fill: '#2b2b2b'}));
  heatYTicks.forEach(f => label(g, 'y-tick-label', String(f), 1970, yHeat(f), 44, 'end', {fill: '#2b2b2b'}));

  const cbTop = 24.5, cbBottom = 870;
  const cbY = d => 52 - d * 211;
  const cb = add(g, 'rect', 'colorbar', false);
  style(cb, {x: 2898, y: cbTop, width: 36, height: cbBottom - cbTop, fill: 'url(#parula)', stroke: '#333', 'stroke-width': 2.5});
  let d = '';
  colorbarDecades.forEach(dec => {
    d += `M2926,${cbY(dec)}H2934`;
    [2, 3, 4, 5, 6, 7, 8, 9].forEach(m => {
      const y = cbY(dec - 1 + Math.log10(m));
      if (y < cbBottom) d += `M2930,${y.toFixed(1)}H2934`;
    });
  });
  tickPath(g, 'colorbar-ticks', d, 1.5);
  colorbarDecades.forEach(dec => {
    const t = label(g, 'colorbar-label', '10', 2962, cbY(dec) + 5, 44, 'start', {fill: '#2b2b2b'});
    const s = document.createElementNS(NS, 'tspan');
    
    
    s.setAttribute('dy', '-17');
    s.setAttribute('font-size', '31');
    s.textContent = dec === 0 ? '0' : '-' + Math.abs(dec);
    t.appendChild(s);
  });
})();

/* ---------- inward-tick frame for panels c and d ---------- */
function inwardAxes(g, x0, y0, x1, y1, xf, yf, xMajor, xMinor, yMajor, yMinor) {
  frame(g, x0, y0, x1, y1, 4.5);
  let d = '';
  xMajor.forEach(v => { d += `M${xf(v)},${y1}v-17`; });
  xMinor.forEach(v => { d += `M${xf(v)},${y1}v-10`; });
  yMajor.forEach(v => { d += `M${x0},${yf(v)}h19`; });
  yMinor.forEach(v => { d += `M${x0},${yf(v)}h10`; });
  tickPath(g, 'axis-ticks', d, 4);
}
function spacedLabel(g, name, str, x, y, anchor) {
  return label(g, name, str, x, y, 44, anchor, {'letter-spacing': '2'});
}

/* ---------- panel c ---------- */
(function () {
  const g = group('velocity-time-panel-c');
  const n = Math.min(cPeaks.length, cDips.length, cBumps.length, cTroughs.length, cRises.length);
  const cSignal = [];
  for (let i = 0; i < n; i++) cSignal.push(cPeaks[i], cDips[i], cBumps[i], cTroughs[i], cRises[i]);
  const xs = cSignal.map((_, i) => xC1(4 * (i + 1) / cSignal.length));
  const p = add(g, 'path', 'velocity-line-c', false);
  style(p, {d: linePath(xs, cSignal.map(yC1)), fill: 'none', stroke: '#000', 'stroke-width': 5.4, 'stroke-linejoin': 'round'});
  inwardAxes(g, 231, 1176.3, 1490, 1521, xC1, yC1, cTimeTicksMajor, cTimeTicksMinor, [-.8, 0, .8], [-.4, .4]);
  cTimeTicksMajor.forEach(t => spacedLabel(g, 'x-tick-label', t.toFixed(1), xC1(t), 1554, 'middle'));
  [.8, 0, -.8].forEach(v => spacedLabel(g, 'y-tick-label', (v < 0 ? '\u2212' : '') + Math.abs(v).toFixed(2), 215, yC1(v), 'end'));

  const g2 = group('spectrum-panel-c');
  const sp = add(g2, 'path', 'spectrum-band-c', false);
  style(sp, {d: bandPath(cFreq.map(xC2), cUpper.map(yC2), cLower.map(yC2)), fill: '#000', stroke: '#000', 'stroke-width': 3.6, 'stroke-linejoin': 'round'});
  inwardAxes(g2, 231, 1704.3, 1490, 2047.7, xC2, yC2, cFreqTicksMajor, cFreqTicksMinor, cAmpTicksMajor, cAmpTicksMinor);
  cFreqTicksMajor.forEach(f => spacedLabel(g2, 'x-tick-label', String(f), xC2(f), 2081, 'middle'));
  cAmpTicksMajor.forEach(v => spacedLabel(g2, 'y-tick-label', v.toFixed(2), 215, yC2(v), 'end'));
})();

/* ---------- panel d ---------- */
(function () {
  const g = group('velocity-time-panel-d');
  const bx = dUpperBase.map((_, i) => xD1(4 * i / (dUpperBase.length - 1)));
  const base = add(g, 'path', 'velocity-base-d', false);
  style(base, {d: bandPath(bx, dUpperBase.map(yD1), dLowerBase.map(yD1)), fill: '#000'});
  let d = '';
  dUpperPeaks.forEach((v, i) => { d += `M${xD1(4 * (i + .5) / dUpperPeaks.length).toFixed(1)},${yD1(v).toFixed(1)}V${yD1(0)}`; });
  dLowerPeaks.forEach((v, i) => { d += `M${xD1(4 * (i + .5) / dLowerPeaks.length).toFixed(1)},${yD1(v).toFixed(1)}V${yD1(0)}`; });
  dUpperMid.forEach((v, i) => { d += `M${xD1(4 * i / dUpperMid.length).toFixed(1)},${yD1(v).toFixed(1)}V${yD1(0)}`; });
  dLowerMid.forEach((v, i) => { d += `M${xD1(4 * i / dLowerMid.length).toFixed(1)},${yD1(v).toFixed(1)}V${yD1(0)}`; });
  const sp = add(g, 'path', 'velocity-spikes-d', false);
  style(sp, {d: d, stroke: '#000', 'stroke-width': 4.4, fill: 'none'});
  inwardAxes(g, 1905.9, 1191.4, 3109.4, 1525.8, xD1, yD1, cTimeTicksMajor, cTimeTicksMinor, [-4, 0, 4], [-2, 2]);
  cTimeTicksMajor.forEach(t => spacedLabel(g, 'x-tick-label', t.toFixed(1), xD1(t), 1554.5, 'middle'));
  [4, 0, -4].forEach(v => spacedLabel(g, 'y-tick-label', (v < 0 ? '\u2212' : '') + Math.abs(v).toFixed(1), 1892, yD1(v), 'end'));

  const g2 = group('spectrum-panel-d');
  const s2 = add(g2, 'path', 'spectrum-band-d', false);
  style(s2, {d: bandPath(dFreq.map(xD2), dUpper.map(yD2), dLower.map(yD2)), fill: '#000', stroke: '#000', 'stroke-width': 4, 'stroke-linejoin': 'round'});
  inwardAxes(g2, 1905.9, 1704.3, 3109.4, 2037.9, xD2, yD2, cFreqTicksMajor, cFreqTicksMinor, dAmpTicksMajor, dAmpTicksMinor);
  cFreqTicksMajor.forEach(f => spacedLabel(g2, 'x-tick-label', String(f), xD2(f), 2070, 'middle'));
  dAmpTicksMajor.forEach(v => spacedLabel(g2, 'y-tick-label', v.toFixed(1), 1892, yD2(v), 'end'));
})();
</script>
</body>
</html>
